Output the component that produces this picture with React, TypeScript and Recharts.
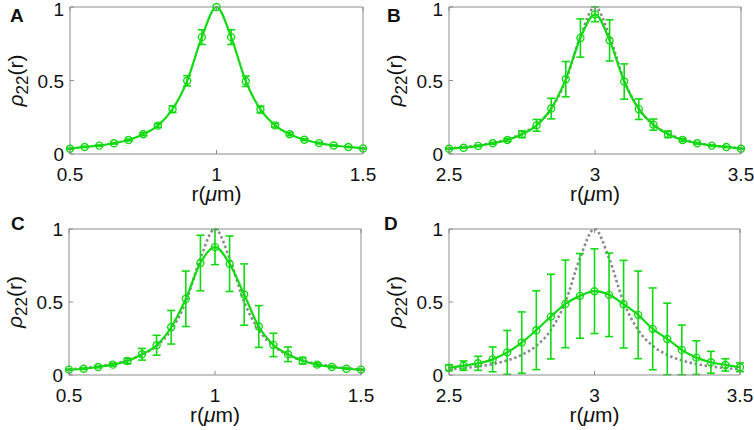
import React from 'react';
import { LineChart, Line, XAxis, YAxis, ErrorBar } from 'recharts';

const W = 754;
const H = 430;
const GREEN = '#12da12';
const GRAY = '#8a8a8a';
const AX = '#8c8c8c';
const FONT = '"Liberation Sans", Arial, Helvetica, sans-serif';

const rLow = [0.5, 0.55, 0.6, 0.65, 0.7, 0.75, 0.8, 0.85, 0.9, 0.95, 1.0, 1.05, 1.1, 1.15, 1.2, 1.25, 1.3, 1.35, 1.4, 1.45, 1.5];
const rHigh = [2.5, 2.55, 2.6, 2.65, 2.7, 2.75, 2.8, 2.85, 2.9, 2.95, 3.0, 3.05, 3.1, 3.15, 3.2, 3.25, 3.3, 3.35, 3.4, 3.45, 3.5];
const xTicksLow = [0.5, 1, 1.5];
const xTicksHigh = [2.5, 3, 3.5];
const yTicks = [0, 0.5, 1];

const ideal = [0.038, 0.047, 0.059, 0.075, 0.1, 0.138, 0.2, 0.308, 0.5, 0.8, 1.0, 0.8, 0.5, 0.308, 0.2, 0.138, 0.1, 0.075, 0.059, 0.047, 0.038];

const valsA = [0.036, 0.048, 0.057, 0.073, 0.095, 0.134, 0.193, 0.305, 0.498, 0.795, 1.0, 0.795, 0.495, 0.303, 0.195, 0.134, 0.097, 0.074, 0.058, 0.048, 0.038];
const errA = [0.004, 0.004, 0.004, 0.005, 0.006, 0.01, 0.012, 0.023, 0.035, 0.05, 0, 0.05, 0.035, 0.023, 0.012, 0.01, 0.006, 0.005, 0.004, 0.004, 0.004];

const valsB = [0.036, 0.043, 0.055, 0.073, 0.095, 0.134, 0.195, 0.309, 0.509, 0.789, 0.95, 0.773, 0.493, 0.305, 0.2, 0.134, 0.095, 0.073, 0.057, 0.048, 0.036];
const errB = [0.004, 0.004, 0.005, 0.006, 0.01, 0.023, 0.04, 0.07, 0.12, 0.13, 0.05, 0.14, 0.12, 0.07, 0.038, 0.022, 0.01, 0.006, 0.005, 0.004, 0.004];

const valsC = [0.037, 0.043, 0.055, 0.071, 0.096, 0.142, 0.204, 0.327, 0.522, 0.767, 0.876, 0.762, 0.551, 0.332, 0.206, 0.142, 0.098, 0.071, 0.055, 0.043, 0.037];
const errC = [0.004, 0.005, 0.006, 0.01, 0.018, 0.04, 0.068, 0.115, 0.19, 0.19, 0.12, 0.19, 0.21, 0.143, 0.08, 0.05, 0.023, 0.012, 0.006, 0.004, 0.004];

const valsD = [0.05, 0.064, 0.08, 0.107, 0.155, 0.222, 0.307, 0.4, 0.487, 0.542, 0.574, 0.549, 0.485, 0.412, 0.316, 0.247, 0.172, 0.119, 0.087, 0.069, 0.053];
const errD = [0.02, 0.032, 0.048, 0.085, 0.15, 0.21, 0.27, 0.29, 0.3, 0.29, 0.29, 0.286, 0.3, 0.3, 0.28, 0.245, 0.17, 0.115, 0.075, 0.042, 0.03];

const BottomTick = (p: any) => (
  <g>
    <line x1={p.x} x2={p.x} y1={p.y} y2={p.y - 4} stroke={AX} strokeWidth={1} />
    <text x={p.x} y={p.y + 27} textAnchor="middle" fontSize={19} fontFamily={FONT} fill="#111">
      {String(p.payload.value)}
    </text>
  </g>
);
const TopTick = (p: any) => (
  <line x1={p.x} x2={p.x} y1={p.y} y2={p.y + 4} stroke={AX} strokeWidth={1} />
);
const LeftTick = (p: any) => (
  <g>
    <line x1={p.x} x2={p.x + 4} y1={p.y} y2={p.y} stroke={AX} strokeWidth={1} />
    <text x={p.x - 6} y={Math.max(p.y + 7, 16)} textAnchor="end" fontSize={19} fontFamily={FONT} fill="#111">
      {String(p.payload.value)}
    </text>
  </g>
);
const RightTick = (p: any) => (
  <line x1={p.x} x2={p.x - 4} y1={p.y} y2={p.y} stroke={AX} strokeWidth={1} />
);

type Box = { l: number; r: number; t: number; b: number };

function Panel({ r, vals, errs, showIdeal, xTicks, box }: { r: number[]; vals: number[]; errs: number[]; showIdeal: boolean; xTicks: number[]; box: Box }) {
  const data = r.map((x, i) => ({ r: x, y: vals[i], e: errs[i], ideal: ideal[i] }));
  const xd: [number, number] = [xTicks[0], xTicks[xTicks.length - 1]];
  return (
    <div style={{ position: 'absolute', left: 0, top: 0 }}>
      <LineChart width={W} height={H} data={data} margin={{ left: box.l - 1, right: W - box.r - 1, top: box.t - 1, bottom: H - box.b - 1 }}>
        <XAxis dataKey="r" type="number" domain={xd} ticks={xTicks} interval={0} height={1} tickSize={0} tickMargin={0} tickLine={false} axisLine={{ stroke: AX }} tick={<BottomTick />} />
        <XAxis xAxisId="t" orientation="top" dataKey="r" type="number" domain={xd} ticks={xTicks} interval={0} height={1} tickSize={0} tickMargin={0} tickLine={false} axisLine={{ stroke: AX }} tick={<TopTick />} />
        <YAxis type="number" domain={[0, 1]} ticks={yTicks} interval={0} width={1} tickSize={0} tickMargin={0} tickLine={false} axisLine={{ stroke: AX }} tick={<LeftTick />} />
        <YAxis yAxisId="rt" orientation="right" type="number" domain={[0, 1]} ticks={yTicks} interval={0} width={1} tickSize={0} tickMargin={0} tickLine={false} axisLine={{ stroke: AX }} tick={<RightTick />} />
        {showIdeal && (
          <Line dataKey="ideal" type="monotone" stroke={GRAY} strokeWidth={2.6} strokeDasharray="2.5 2.6" dot={false} activeDot={false} isAnimationActive={false} />
        )}
        <Line dataKey="y" type="monotone" stroke={GREEN} strokeWidth={2.2} dot={{ r: 3.5, stroke: GREEN, strokeWidth: 1.4, fill: 'none' }} activeDot={false} isAnimationActive={false}>
          <ErrorBar dataKey="e" width={4} stroke={GREEN} strokeWidth={1.6} direction="y" isAnimationActive={false} />
        </Line>
      </LineChart>
    </div>
  );
}

const boxes: Box[] = [
  { l: 70, r: 363, t: 7, b: 154 },
  { l: 449, r: 741, t: 7, b: 154 },
  { l: 69, r: 361, t: 229, b: 375 },
  { l: 449, r: 740, t: 229, b: 375 },
];
const letters = ['A', 'B', 'C', 'D'];
const letterPos = [
  [10, 22],
  [387, 22],
  [11, 230],
  [384, 230],
];

function Texts() {
  return (
    <svg width={W} height={H} style={{ position: 'absolute', left: 0, top: 0, pointerEvents: 'none' }}>
      {boxes.map((b, i) => {
        const cx = (b.l + b.r) / 2;
        const cy = (b.t + b.b) / 2;
        const yl = b.l - 47;
        return (
          <g key={i} fontFamily={FONT} fill="#111">
            <text x={letterPos[i][0]} y={letterPos[i][1]} fontSize={19} fontWeight="bold">
              {letters[i]}
            </text>
            <text x={cx} y={b.b + 47} fontSize={21} textAnchor="middle">
              r(<tspan fontStyle="italic">μ</tspan>m)
            </text>
            <text transform={`translate(${yl}, ${cy}) rotate(-90)`} fontSize={21} textAnchor="middle">
              <tspan fontStyle="italic">ρ</tspan>
              <tspan fontSize={17} dy={5}>22</tspan>
              <tspan dy={-5}>(r)</tspan>
            </text>
          </g>
        );
      })}
    </svg>
  );
}

export default function App() {
  return (
    <div style={{ position: 'absolute', left: 0, top: 0, width: W, height: H, background: '#fff', overflow: 'hidden' }}>
      <Panel r={rLow} vals={valsA} errs={errA} showIdeal={false} xTicks={xTicksLow} box={boxes[0]} />
      <Panel r={rHigh} vals={valsB} errs={errB} showIdeal={true} xTicks={xTicksHigh} box={boxes[1]} />
      <Panel r={rLow} vals={valsC} errs={errC} showIdeal={true} xTicks={xTicksLow} box={boxes[2]} />
      <Panel r={rHigh} vals={valsD} errs={errD} showIdeal={true} xTicks={xTicksHigh} box={boxes[3]} />
      <Texts />
    </div>
  );
}
